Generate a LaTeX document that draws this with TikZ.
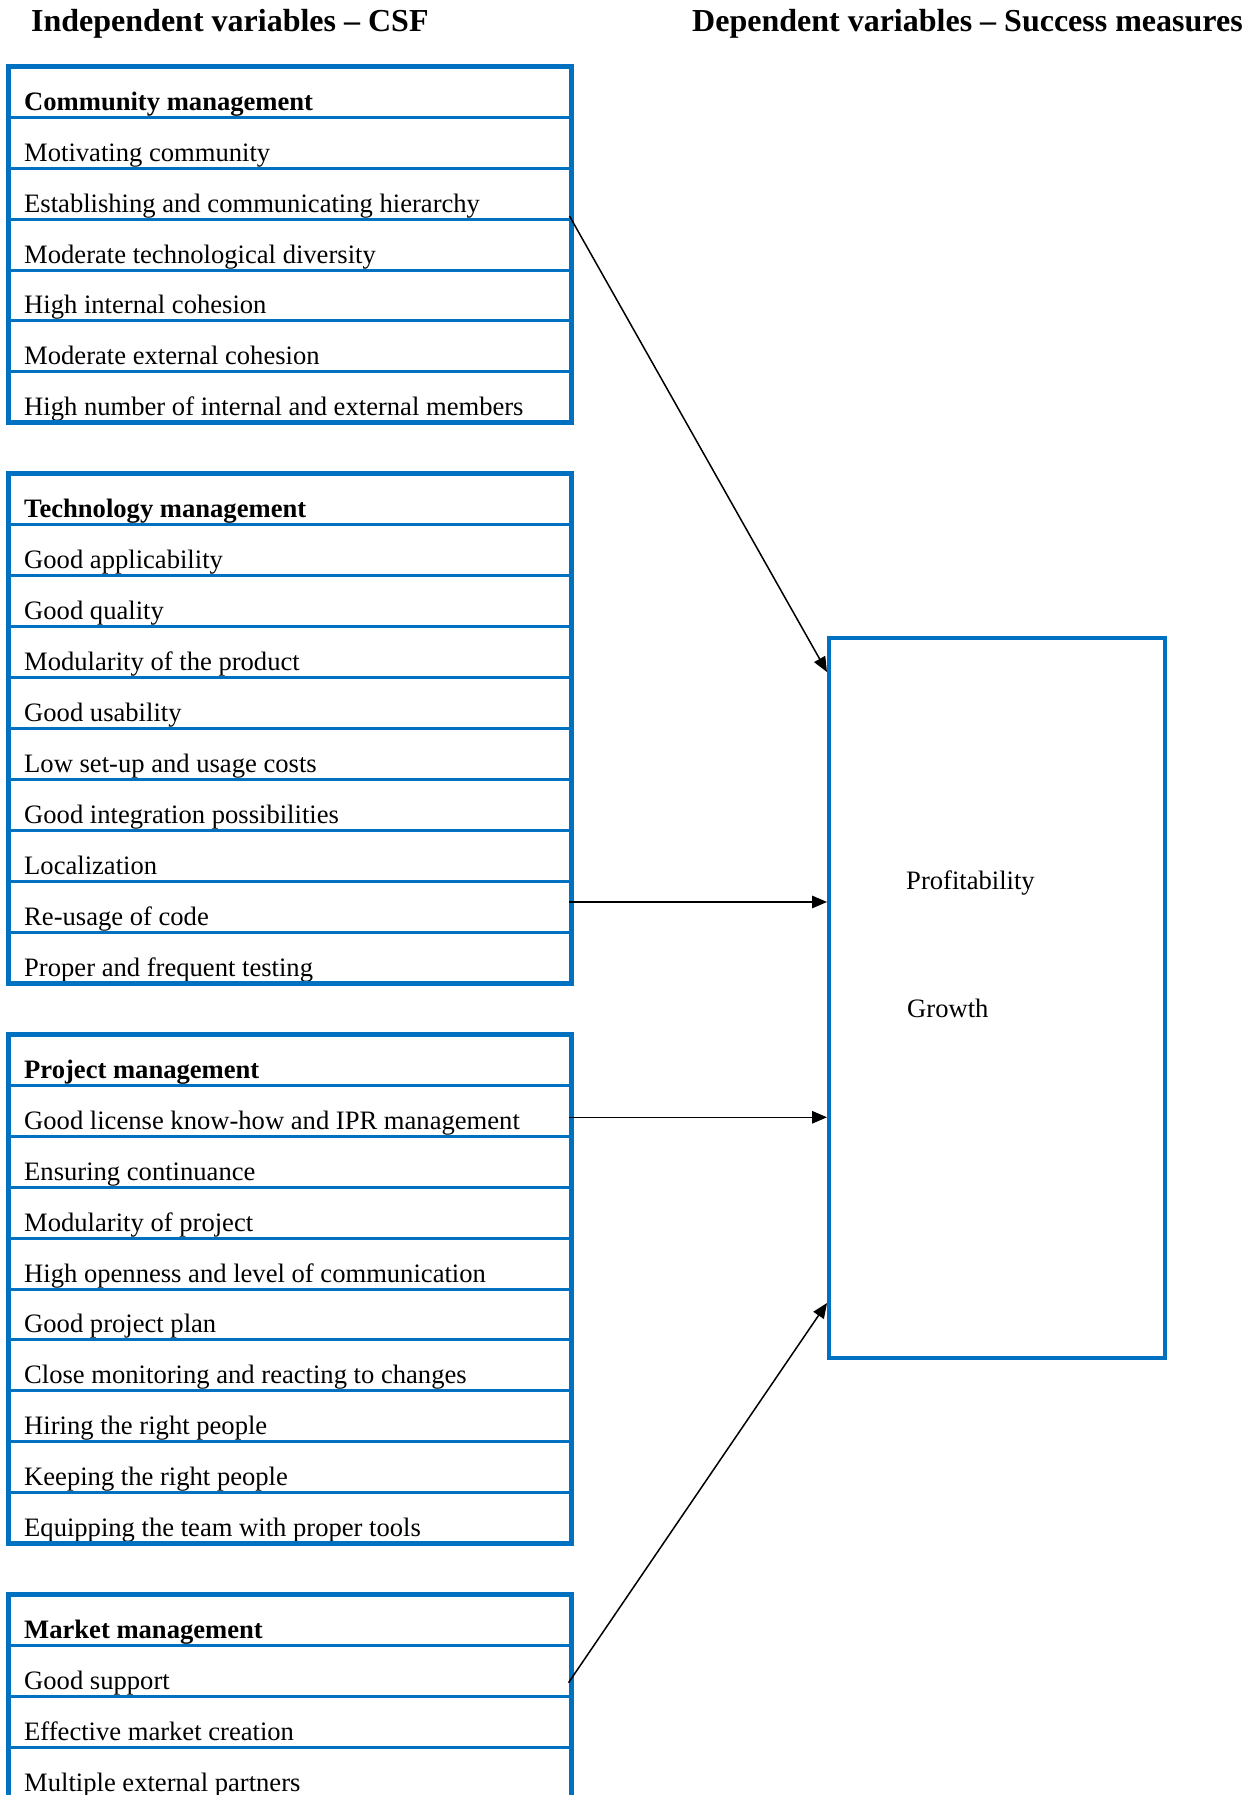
\documentclass[tikz,border=0pt]{standalone}
\usepackage{fontspec}
\setmainfont{Liberation Serif}
\usetikzlibrary{arrows.meta}
\definecolor{csfblue}{RGB}{0,112,192}
\newcommand\itemfont{\fontsize{26.6pt}{30pt}\selectfont}
\newcommand\titlefont{\fontsize{32pt}{36pt}\selectfont\bfseries}
\tikzset{
  cell/.style={draw=csfblue, line width=3pt, minimum width=563pt,
    minimum height=50.95pt, inner sep=0pt, outer sep=0pt, anchor=north west},
  frame/.style={draw=csfblue, line width=5pt},
  itemtxt/.style={anchor=base west, inner sep=0pt, font=\itemfont},
  headtxt/.style={itemtxt, font=\itemfont\bfseries},
  titletxt/.style={anchor=base west, inner sep=0pt, font=\titlefont},
  link/.style={draw=black, line width=1.5pt, -{Triangle[length=15pt,width=12.5pt]}},
}
\begin{document}
\begin{tikzpicture}[x=1pt, y=-1pt]
\useasboundingbox (0,0) rectangle (1253,1795);
\clip (0,0) rectangle (1253,1795);

% column headings
\node[titletxt] (indep) at (31,32) {Independent variables – CSF};
\node[titletxt] (dep) at (692,32) {Dependent variables – Success measures};

% Community management (rows 0-6)
\node[cell] (cm0) at (8.5,66.2) {};
\node[headtxt] (cmt0) at ([xshift=15.5pt,yshift=7pt]cm0.south west) {Community management};
\foreach \txt [count=\k] in {Motivating community, Establishing and communicating hierarchy,
  Moderate technological diversity, High internal cohesion, Moderate external cohesion,
  High number of internal and external members} {
  \node[cell] (cm\k) at (8.5,{66.2+\k*50.95}) {};
  \node[itemtxt] (cmt\k) at ([xshift=15.5pt,yshift=7pt]cm\k.south west) {\txt};
}
\draw[frame] (cm0.north west) rectangle (cm6.south east);

% Technology management (rows 8-17)
\node[cell] (tm0) at (8.5,{66.2+8*50.95}) {};
\node[headtxt] (tmt0) at ([xshift=15.5pt,yshift=7pt]tm0.south west) {Technology management};
\foreach \txt [count=\k] in {Good applicability, Good quality, Modularity of the product,
  Good usability, Low set-up and usage costs, Good integration possibilities, Localization,
  Re-usage of code, Proper and frequent testing} {
  \node[cell] (tm\k) at (8.5,{66.2+(8+\k)*50.95}) {};
  \node[itemtxt] (tmt\k) at ([xshift=15.5pt,yshift=7pt]tm\k.south west) {\txt};
}
\draw[frame] (tm0.north west) rectangle (tm9.south east);

% Project management (rows 19-28)
\node[cell] (pm0) at (8.5,{66.2+19*50.95}) {};
\node[headtxt] (pmt0) at ([xshift=15.5pt,yshift=7pt]pm0.south west) {Project management};
\foreach \txt [count=\k] in {Good license know-how and IPR management, Ensuring continuance,
  Modularity of project, High openness and level of communication, Good project plan,
  Close monitoring and reacting to changes, Hiring the right people,
  Keeping the right people, Equipping the team with proper tools} {
  \node[cell] (pm\k) at (8.5,{66.2+(19+\k)*50.95}) {};
  \node[itemtxt] (pmt\k) at ([xshift=15.5pt,yshift=7pt]pm\k.south west) {\txt};
}
\draw[frame] (pm0.north west) rectangle (pm9.south east);

% Market management (rows 30-33, runs past the lower edge)
\node[cell] (mm0) at (8.5,{66.2+30*50.95}) {};
\node[headtxt] (mmt0) at ([xshift=15.5pt,yshift=7pt]mm0.south west) {Market management};
\foreach \txt [count=\k] in {Good support, Effective market creation, Multiple external partners} {
  \node[cell] (mm\k) at (8.5,{66.2+(30+\k)*50.95}) {};
  \node[itemtxt] (mmt\k) at ([xshift=15.5pt,yshift=7pt]mm\k.south west) {\txt};
}
\draw[frame] (mm0.north west) rectangle ([yshift=-12pt]mm3.south east);

% success measures
\node[draw=csfblue, line width=4pt, minimum width=336pt, minimum height=720pt,
  inner sep=0pt] (dv) at (997,998) {};
\node[itemtxt] (prof) at (906,889) {Profitability};
\node[itemtxt] (grow) at (907,1017.5) {Growth};

% connectors
\coordinate (s1) at ([xshift=-2pt,yshift=3pt]cm2.south east);
\coordinate (s2) at ([xshift=-3pt,yshift=4.9pt]tm8.east);
\coordinate (s3) at ([xshift=-3pt,yshift=-6.6pt]pm1.east);
\coordinate (s4) at ([xshift=-3pt,yshift=-11.6pt]mm1.east);
\draw[link] (s1) -- ([yshift=-36pt]dv.north west);
\draw[link] (s2) -- (s2 -| dv.west);
\draw[link] (s3) -- (s3 -| dv.west);
\draw[link] (s4) -- ([yshift=57pt]dv.south west);
\end{tikzpicture}
\end{document}
